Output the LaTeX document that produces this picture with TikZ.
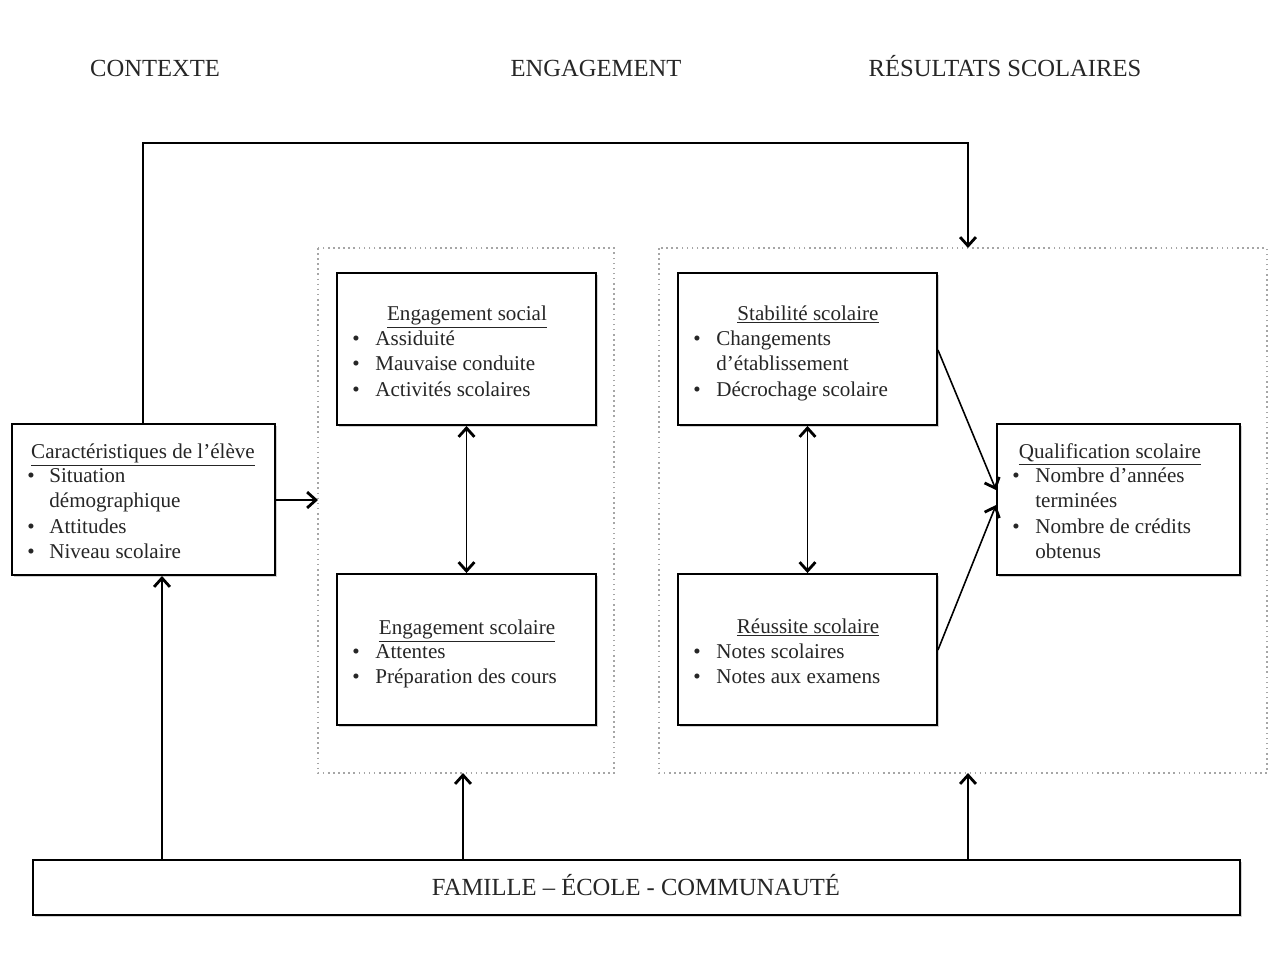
\documentclass[tikz,border=0pt]{standalone}
\usepackage{fontspec}
\setmainfont{Liberation Serif}
\usetikzlibrary{arrows.meta,shadows}
\begin{document}
\begin{tikzpicture}[x=0.02cm,y=-0.02cm,
  box/.style={draw=black,line width=1.1pt,fill=white,inner sep=0pt,
    drop shadow={shadow xshift=1.2pt,shadow yshift=-1.2pt,opacity=0.35}},
  dotbox/.style={draw=gray!70,dotted,line width=0.9pt,inner sep=0pt},
  txt/.style={inner sep=0pt,anchor=base west,font=\fontsize{12}{14}\selectfont,text=black!85},
  ttl/.style={inner sep=0pt,anchor=base,font=\fontsize{12}{14}\selectfont,text=black!85},
  head/.style={inner sep=0pt,anchor=base,font=\fontsize{14}{16}\selectfont,text=black!85},
  tip/.style={},
  arr/.style={line width=0.9pt,-{Straight Barb[length=5pt,width=9pt,line width=1.6pt]}},
  darr/.style={line width=0.9pt,{Straight Barb[length=5pt,width=9pt,line width=1.6pt]}-{Straight Barb[length=5pt,width=9pt,line width=1.6pt]}}
]
\useasboundingbox[fill=white] (0,0) rectangle (1284,961);

% headings
\node[head] (h1) at (155,76) {CONTEXTE};
\node[head] (h2) at (596,76) {ENGAGEMENT};
\node[head] (h3) at (1005,76) {RÉSULTATS SCOLAIRES};

% dotted containers
\draw[dotbox] (318,248) rectangle (614,773);
\draw[dotbox] (659,248) rectangle (1267,773);
\coordinate (engtop) at (466,248);
\coordinate (engbot) at (463,773);
\coordinate (engleft) at (318,500);
\coordinate (restop) at (968,248);
\coordinate (resbot) at (968,773);

% boxes
\node[box,minimum width=263*0.02cm,minimum height=151*0.02cm] (carac) at (143.5,499.5) {};
\node[box,minimum width=259*0.02cm,minimum height=152*0.02cm] (social) at (466.5,349) {};
\node[box,minimum width=259*0.02cm,minimum height=151*0.02cm] (scol) at (466.5,649.5) {};
\node[box,minimum width=259*0.02cm,minimum height=152*0.02cm] (stab) at (807.5,349) {};
\node[box,minimum width=259*0.02cm,minimum height=151*0.02cm] (reus) at (807.5,649.5) {};
\node[box,minimum width=243*0.02cm,minimum height=151*0.02cm] (qual) at (1118.5,499.5) {};
\node[box,minimum width=1207*0.02cm,minimum height=55*0.02cm] (fam) at (636.5,887.5) {};
\node[head] (famt) at (636,895) {FAMILLE – ÉCOLE - COMMUNAUTÉ};

% texts: Caractéristiques
\node[ttl] (c0) at (143,458) {\underline{Caractéristiques de l’élève}};
\node[txt] (c1b) at (27,482) {•};
\node[txt] (c1) at (49,482) {Situation};
\node[txt] (c1c) at (49,507) {démographique};
\node[txt] (c2b) at (27,533) {•};
\node[txt] (c2) at (49,533) {Attitudes};
\node[txt] (c3b) at (27,558) {•};
\node[txt] (c3) at (49,558) {Niveau scolaire};

% Engagement social
\node[ttl] (s0) at (467,320) {\underline{Engagement social}};
\node[txt] (s1b) at (352,345) {•};
\node[txt] (s1) at (375,345) {Assiduité};
\node[txt] (s2b) at (352,370) {•};
\node[txt] (s2) at (375,370) {Mauvaise conduite};
\node[txt] (s3b) at (352,396) {•};
\node[txt] (s3) at (375,396) {Activités scolaires};

% Engagement scolaire
\node[ttl] (e0) at (467,634) {\underline{Engagement scolaire}};
\node[txt] (e1b) at (352,658) {•};
\node[txt] (e1) at (375,658) {Attentes};
\node[txt] (e2b) at (352,683) {•};
\node[txt] (e2) at (375,683) {Préparation des cours};

% Stabilité
\node[ttl] (t0) at (808,320) {\underline{Stabilité scolaire}};
\node[txt] (t1b) at (693,345) {•};
\node[txt] (t1) at (716,345) {Changements};
\node[txt] (t1c) at (716,370) {d’établissement};
\node[txt] (t2b) at (693,396) {•};
\node[txt] (t2) at (716,396) {Décrochage scolaire};

% Réussite
\node[ttl] (r0) at (808,633) {\underline{Réussite scolaire}};
\node[txt] (r1b) at (693,658) {•};
\node[txt] (r1) at (716,658) {Notes scolaires};
\node[txt] (r2b) at (693,683) {•};
\node[txt] (r2) at (716,683) {Notes aux examens};

% Qualification
\node[ttl] (q0) at (1110,458) {\underline{Qualification scolaire}};
\node[txt] (q1b) at (1012,482) {•};
\node[txt] (q1) at (1035,482) {Nombre d’années};
\node[txt] (q1c) at (1035,507) {terminées};
\node[txt] (q2b) at (1012,533) {•};
\node[txt] (q2) at (1035,533) {Nombre de crédits};
\node[txt] (q2c) at (1035,558) {obtenus};

% connectors
\draw[arr] (carac.north -| 143,0) -- (143,143) -- (968,143) -- (restop);
\draw[arr] (carac.east |- engleft) -- (engleft);
\draw[arr] (fam.north -| 162,0) -- (carac.south -| 162,0);
\draw[arr] (fam.north -| engbot) -- (engbot);
\draw[arr] (fam.north -| resbot) -- (resbot);
\draw[darr] (social.south) -- (scol.north);
\draw[darr] (stab.south) -- (reus.north);
\draw[arr] (stab.east |- 0,350) -- (qual.west |- 0,490);
\draw[arr] (reus.east |- 0,650) -- (qual.west |- 0,505);
\end{tikzpicture}
\end{document}
